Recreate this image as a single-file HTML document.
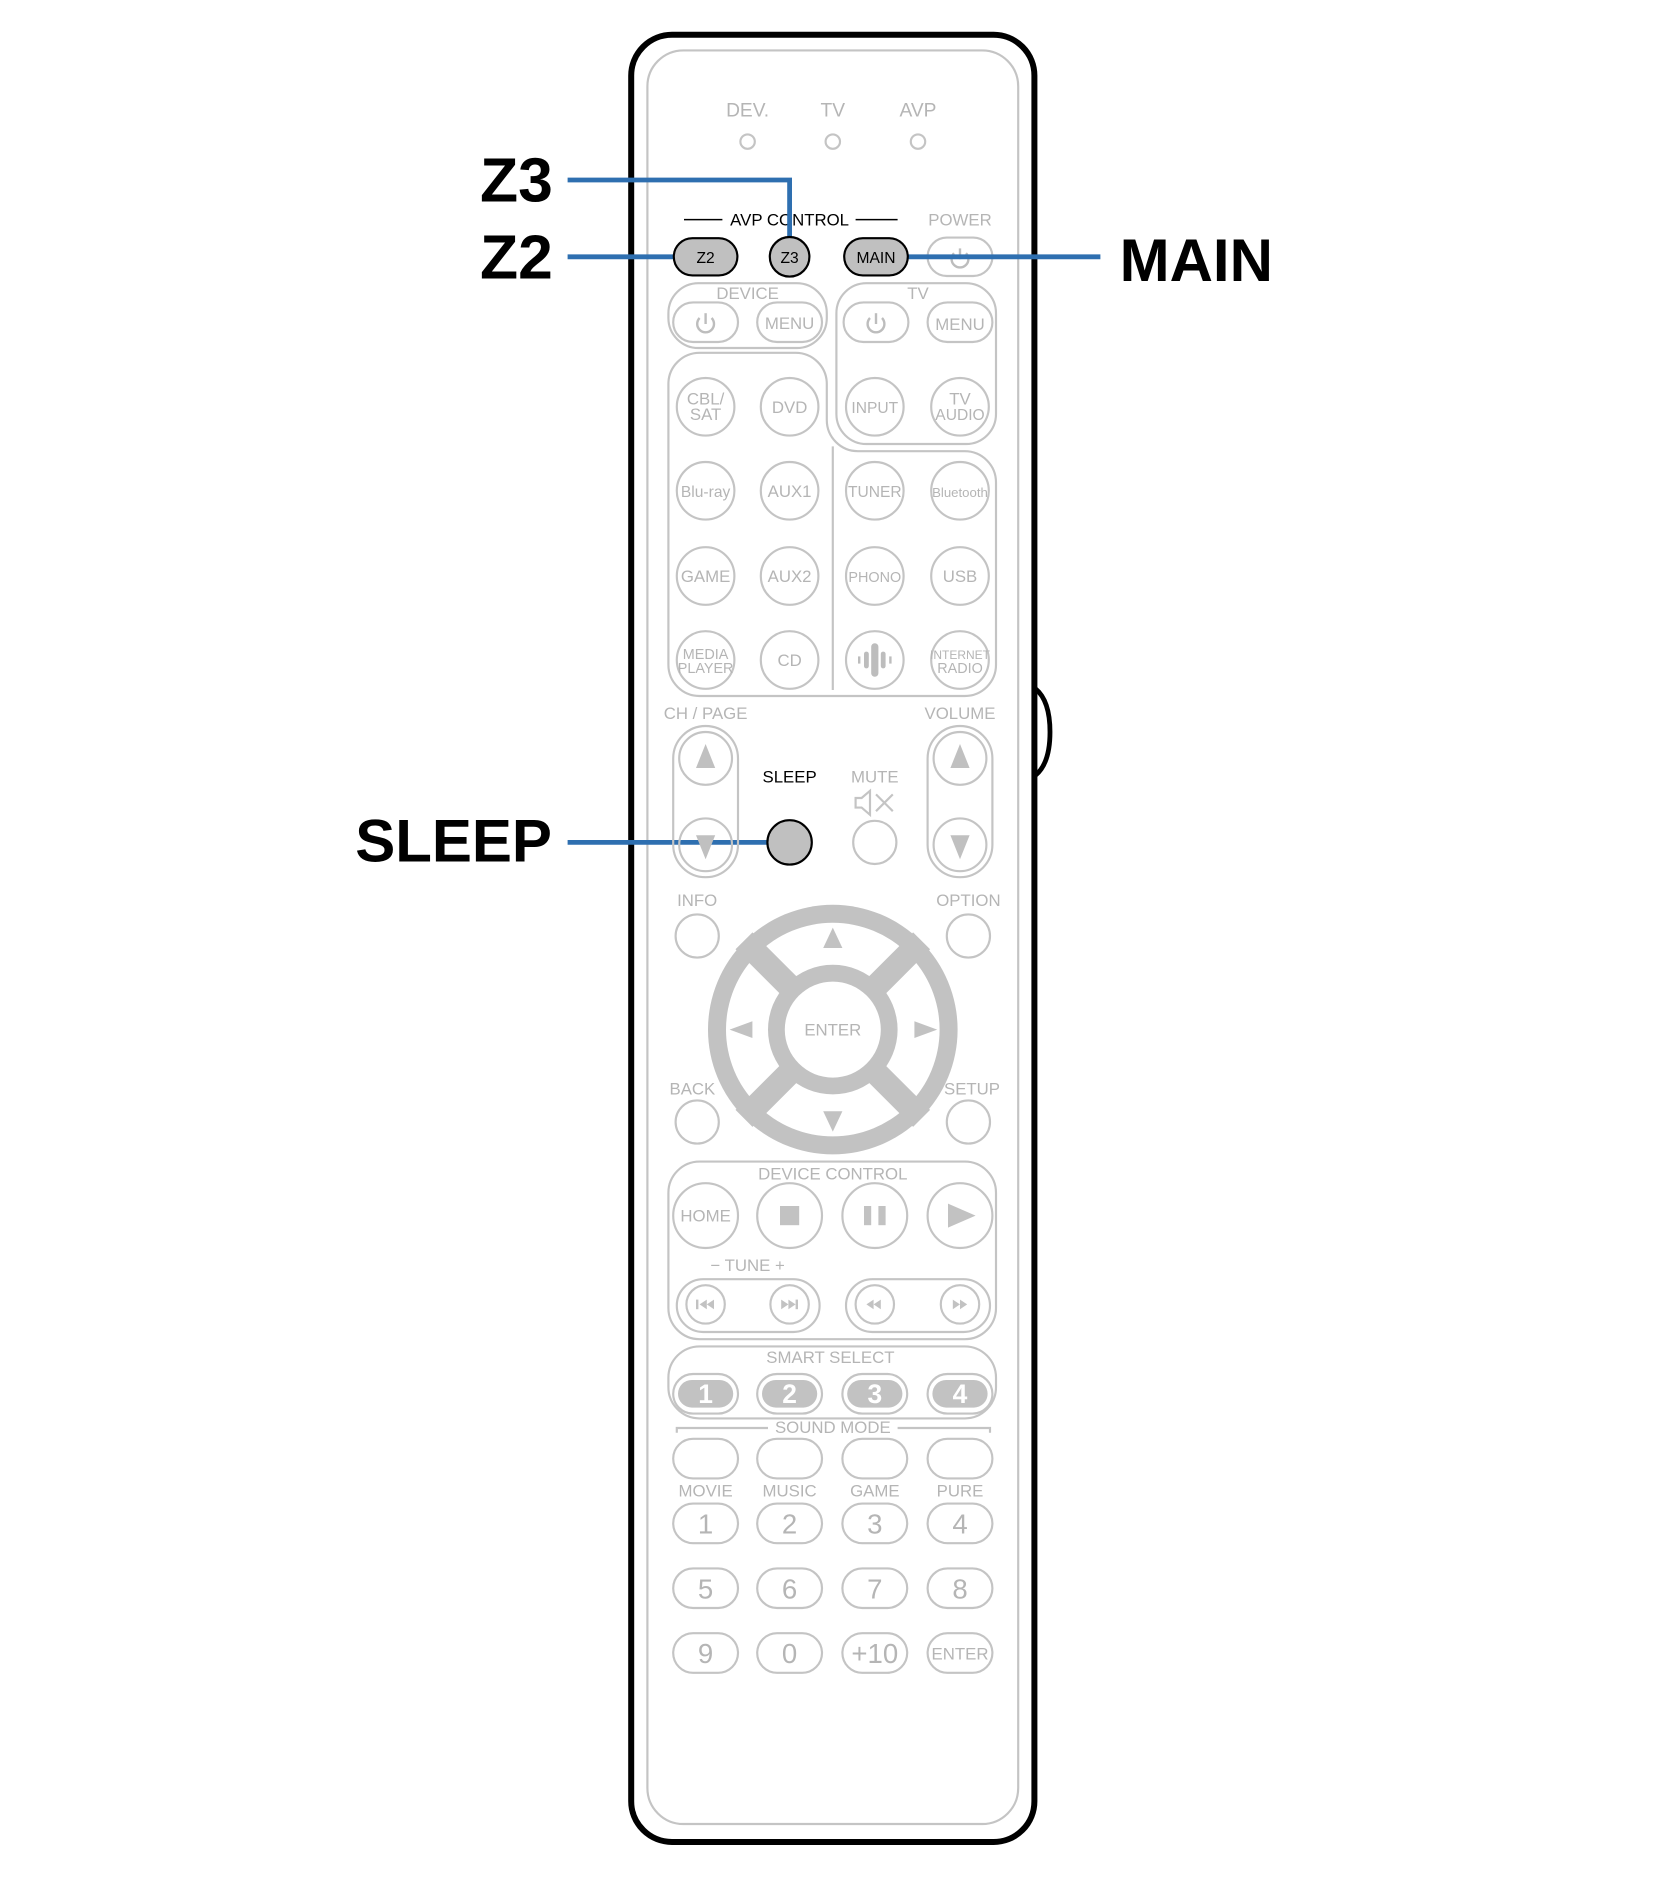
<!DOCTYPE html>
<html><head><meta charset="utf-8"><style>
html,body{margin:0;padding:0;background:#fff;}
svg{display:block;}
text{font-family:"Liberation Sans",sans-serif;}
.g{fill:#b5b5b5;text-anchor:middle;}
.s{fill:none;stroke:#c4c4c4;stroke-width:1.8;}
</style></head><body>
<svg width="1665" height="1878" viewBox="0 0 1387.5 1565" font-size="14" xmlns="http://www.w3.org/2000/svg">
<defs>
<g id="pw"><path d="M-5,-4 a7,7 0 1 0 10,0" fill="none" stroke="#bdbdbd" stroke-width="2"/><line x1="0" y1="-8" x2="0" y2="1" stroke="#bdbdbd" stroke-width="2"/></g>
</defs>
<rect width="1387.5" height="1565" fill="#fff"/>
<path d="M863,574 q12,10 12,36 q0,26 -12,36" fill="none" stroke="#000" stroke-width="4"/>
<rect x="526" y="29" width="336" height="1506" rx="34" fill="#fff" stroke="#000" stroke-width="5"/>
<rect x="539.5" y="42" width="309" height="1478" rx="30" class="s"/>
<text class="g" x="623" y="97" font-size="16">DEV.</text>
<text class="g" x="694" y="97" font-size="16">TV</text>
<text class="g" x="765" y="97" font-size="16">AVP</text>
<circle cx="623" cy="118" r="6" class="s"/><circle cx="694" cy="118" r="6" class="s"/><circle cx="765" cy="118" r="6" class="s"/>
<line x1="570" y1="183" x2="602" y2="183" stroke="#000" stroke-width="1.3"/>
<line x1="713" y1="183" x2="748" y2="183" stroke="#000" stroke-width="1.3"/>
<text x="658" y="188" font-size="14" text-anchor="middle" fill="#000">AVP CONTROL</text>
<text class="g" x="800" y="188">POWER</text>
<rect x="773" y="198" width="54" height="32" rx="16" class="s"/>
<use href="#pw" x="800" y="215"/>
<g stroke="#2e6fb0" stroke-width="4" fill="none">
<path d="M473,150 H658 V198"/>
<line x1="473" y1="214" x2="562" y2="214"/>
<line x1="756" y1="214" x2="917" y2="214"/>
<line x1="473" y1="702" x2="641" y2="702"/>
</g>
<rect x="561.5" y="198.5" width="53" height="31" rx="15.5" fill="#c0c0c0" stroke="#000" stroke-width="1.8"/>
<text x="588" y="219" font-size="13" text-anchor="middle">Z2</text>
<circle cx="658" cy="214" r="16.5" fill="#c0c0c0" stroke="#000" stroke-width="1.8"/>
<text x="658" y="219" font-size="13" text-anchor="middle">Z3</text>
<rect x="703.5" y="198.5" width="53" height="31" rx="15.5" fill="#c0c0c0" stroke="#000" stroke-width="1.8"/>
<text x="730" y="219" font-size="13" text-anchor="middle">MAIN</text>
<g font-weight="bold" fill="#000">
<text x="400" y="168" font-size="52">Z3</text>
<text x="400" y="232" font-size="52">Z2</text>
<text x="933" y="234" font-size="50">MAIN</text>
<text x="296" y="718" font-size="50">SLEEP</text>
</g>
<rect x="557" y="236" width="132" height="54" rx="25" class="s"/>
<text class="g" x="623" y="249">DEVICE</text>
<rect x="561" y="252" width="54" height="33" rx="16.5" class="s"/>
<use href="#pw" x="588" y="269"/>
<rect x="631" y="252" width="54" height="33" rx="16.5" class="s"/>
<text class="g" x="658" y="274">MENU</text>
<rect x="697" y="236" width="133" height="134" rx="25" class="s"/>
<text class="g" x="765" y="249">TV</text>
<rect x="703" y="252" width="54" height="33" rx="16.5" class="s"/>
<use href="#pw" x="730" y="269"/>
<rect x="773" y="252" width="54" height="33" rx="16.5" class="s"/>
<text class="g" x="800" y="275">MENU</text>
<path d="M557,320 a26,26 0 0 1 26,-26 h80 a26,26 0 0 1 26,26 v30 a26,26 0 0 0 26,26 h89 a26,26 0 0 1 26,26 v152 a26,26 0 0 1 -26,26 h-221 a26,26 0 0 1 -26,-26 z" class="s"/>
<line x1="694" y1="372" x2="694" y2="575" class="s"/>
<g class="s">
<circle cx="588" cy="339" r="24"/><circle cx="658" cy="339" r="24"/><circle cx="729" cy="339" r="24"/><circle cx="800" cy="339" r="24"/>
<circle cx="588" cy="409" r="24"/><circle cx="658" cy="409" r="24"/><circle cx="729" cy="409" r="24"/><circle cx="800" cy="409" r="24"/>
<circle cx="588" cy="480" r="24"/><circle cx="658" cy="480" r="24"/><circle cx="729" cy="480" r="24"/><circle cx="800" cy="480" r="24"/>
<circle cx="588" cy="550" r="24"/><circle cx="658" cy="550" r="24"/><circle cx="729" cy="550" r="24"/><circle cx="800" cy="550" r="24"/>
</g>
<g class="g" font-size="14">
<text x="588" y="337">CBL/</text><text x="588" y="350">SAT</text>
<text x="658" y="344">DVD</text>
<text x="729" y="344" font-size="13">INPUT</text>
<text x="800" y="337">TV</text><text x="800" y="350" font-size="13">AUDIO</text>
<text x="588" y="414" font-size="13">Blu-ray</text><text x="658" y="414">AUX1</text>
<text x="729" y="414" font-size="13">TUNER</text><text x="800" y="414" font-size="11">Bluetooth</text>
<text x="588" y="485">GAME</text><text x="658" y="485">AUX2</text>
<text x="729" y="485" font-size="12">PHONO</text><text x="800" y="485">USB</text>
<text x="588" y="549" font-size="12">MEDIA</text><text x="588" y="561" font-size="12">PLAYER</text>
<text x="658" y="555">CD</text>
<text x="800" y="549" font-size="10">INTERNET</text><text x="800" y="561" font-size="12">RADIO</text>
</g>
<g fill="#bdbdbd"><rect x="726" y="536" width="6" height="28" rx="3"/><rect x="720" y="543" width="4" height="14" rx="2"/><rect x="734" y="543" width="4" height="14" rx="2"/><rect x="715" y="547" width="2" height="6"/><rect x="741" y="547" width="2" height="6"/></g>
<text class="g" x="588" y="599">CH / PAGE</text>
<text class="g" x="800" y="599">VOLUME</text>
<rect x="561" y="605" width="54" height="126" rx="27" class="s"/>
<circle cx="588" cy="632" r="22" class="s"/><circle cx="588" cy="704" r="22" class="s"/>
<rect x="773" y="605" width="54" height="126" rx="27" class="s"/>
<circle cx="800" cy="632" r="22" class="s"/><circle cx="800" cy="704" r="22" class="s"/>
<g fill="#c0c0c0">
<polygon points="588,620 580,640 596,640"/><polygon points="588,716 580,696 596,696"/>
<polygon points="800,620 792,640 808,640"/><polygon points="800,716 792,696 808,696"/>
</g>
<text x="658" y="652" font-size="14" text-anchor="middle" fill="#000">SLEEP</text>
<circle cx="658" cy="702" r="18.5" fill="#c0c0c0" stroke="#000" stroke-width="1.8"/>
<text class="g" x="729" y="652">MUTE</text>
<path d="M713,665 h5 l7,-6 v20 l-7,-6 h-5 z M730,662 l14,14 M744,662 l-14,14" class="s" stroke-width="2"/>
<circle cx="729" cy="702" r="18" class="s"/>
<text class="g" x="581" y="755">INFO</text><text class="g" x="807" y="755">OPTION</text>
<circle cx="581" cy="780" r="18" class="s"/><circle cx="807" cy="780" r="18" class="s"/>
<text class="g" x="577" y="912">BACK</text><text class="g" x="810" y="912">SETUP</text>
<circle cx="581" cy="935" r="18" class="s"/><circle cx="807" cy="935" r="18" class="s"/>
<circle cx="694" cy="858" r="104" fill="#c2c2c2"/>
<circle cx="694" cy="858" r="89" fill="#fff"/>
<g stroke="#c2c2c2" stroke-width="20"><line x1="620" y1="784" x2="768" y2="932"/><line x1="768" y1="784" x2="620" y2="932"/></g>
<circle cx="694" cy="858" r="54" fill="#c2c2c2"/>
<circle cx="694" cy="858" r="40" fill="#fff"/>
<text class="g" x="694" y="863">ENTER</text>
<g fill="#c2c2c2">
<polygon points="694,773 686,790 702,790"/><polygon points="694,943 686,926 702,926"/>
<polygon points="608,858 627,851 627,865"/><polygon points="781,858 762,851 762,865"/>
</g>
<rect x="557" y="968" width="273" height="148" rx="26" class="s"/>
<text class="g" x="694" y="983">DEVICE CONTROL</text>
<circle cx="588" cy="1013" r="27" class="s"/><circle cx="658" cy="1013" r="27" class="s"/><circle cx="729" cy="1013" r="27" class="s"/><circle cx="800" cy="1013" r="27" class="s"/>
<text class="g" x="588" y="1018">HOME</text>
<g fill="#c2c2c2"><rect x="650" y="1005" width="16" height="16"/><rect x="720" y="1005" width="6" height="16"/><rect x="732" y="1005" width="6" height="16"/><polygon points="790,1003 790,1023 813,1013"/></g>
<text class="g" x="623" y="1059">−  TUNE  +</text>
<rect x="564" y="1066" width="119" height="44" rx="22" class="s"/>
<rect x="705" y="1066" width="120" height="44" rx="22" class="s"/>
<circle cx="588" cy="1087" r="16" class="s"/><circle cx="658" cy="1087" r="16" class="s"/><circle cx="729" cy="1087" r="16" class="s"/><circle cx="800" cy="1087" r="16" class="s"/>
<g fill="#c2c2c2">
<rect x="580" y="1083" width="2" height="8"/><polygon points="583,1087 589,1083 589,1091"/><polygon points="589,1087 595,1083 595,1091"/>
<polygon points="651,1083 657,1087 651,1091"/><polygon points="657,1083 663,1087 657,1091"/><rect x="663" y="1083" width="2" height="8"/>
<polygon points="722,1087 728,1083 728,1091"/><polygon points="728,1087 734,1083 734,1091"/>
<polygon points="794,1083 800,1087 794,1091"/><polygon points="800,1083 806,1087 800,1091"/>
</g>
<rect x="557" y="1122" width="273" height="60" rx="26" class="s"/>
<text class="g" x="692" y="1136">SMART SELECT</text>
<g class="s"><rect x="561" y="1145" width="54" height="33" rx="16.5"/><rect x="631" y="1145" width="54" height="33" rx="16.5"/><rect x="702" y="1145" width="54" height="33" rx="16.5"/><rect x="773" y="1145" width="54" height="33" rx="16.5"/></g>
<g fill="#c2c2c2"><rect x="565" y="1150" width="46" height="23" rx="11.5"/><rect x="635" y="1150" width="46" height="23" rx="11.5"/><rect x="706" y="1150" width="46" height="23" rx="11.5"/><rect x="777" y="1150" width="46" height="23" rx="11.5"/></g>
<g fill="#fff" font-size="22" font-weight="bold" text-anchor="middle"><text x="588" y="1169">1</text><text x="658" y="1169">2</text><text x="729" y="1169">3</text><text x="800" y="1169">4</text></g>
<path d="M564,1194 v-4 h76 M748,1190 h77 v4" class="s"/>
<text class="g" x="694" y="1194">SOUND MODE</text>
<g class="s">
<rect x="561" y="1199" width="54" height="33" rx="16.5"/><rect x="631" y="1199" width="54" height="33" rx="16.5"/><rect x="702" y="1199" width="54" height="33" rx="16.5"/><rect x="773" y="1199" width="54" height="33" rx="16.5"/>
<rect x="561" y="1253" width="54" height="33" rx="16.5"/><rect x="631" y="1253" width="54" height="33" rx="16.5"/><rect x="702" y="1253" width="54" height="33" rx="16.5"/><rect x="773" y="1253" width="54" height="33" rx="16.5"/>
<rect x="561" y="1307" width="54" height="33" rx="16.5"/><rect x="631" y="1307" width="54" height="33" rx="16.5"/><rect x="702" y="1307" width="54" height="33" rx="16.5"/><rect x="773" y="1307" width="54" height="33" rx="16.5"/>
<rect x="561" y="1361" width="54" height="33" rx="16.5"/><rect x="631" y="1361" width="54" height="33" rx="16.5"/><rect x="702" y="1361" width="54" height="33" rx="16.5"/><rect x="773" y="1361" width="54" height="33" rx="16.5"/>
</g>
<g class="g"><text x="588" y="1247">MOVIE</text><text x="658" y="1247">MUSIC</text><text x="729" y="1247">GAME</text><text x="800" y="1247">PURE</text></g>
<g class="g" font-size="23">
<text x="588" y="1278">1</text><text x="658" y="1278">2</text><text x="729" y="1278">3</text><text x="800" y="1278">4</text>
<text x="588" y="1332">5</text><text x="658" y="1332">6</text><text x="729" y="1332">7</text><text x="800" y="1332">8</text>
<text x="588" y="1386">9</text><text x="658" y="1386">0</text><text x="729" y="1386">+10</text><text x="800" y="1383" font-size="14">ENTER</text>
</g>
</svg>
</body></html>
